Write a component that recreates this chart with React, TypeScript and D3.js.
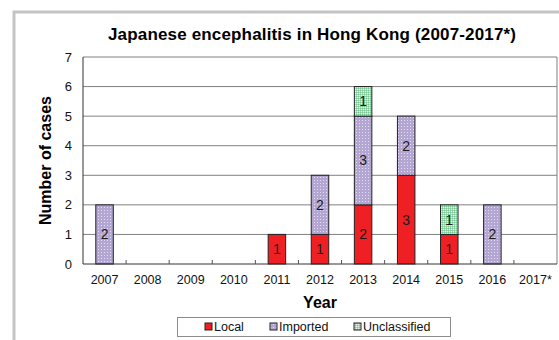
import { useEffect, useRef } from "react";
import * as d3 from "d3";

const years = ["2007", "2008", "2009", "2010", "2011", "2012", "2013", "2014", "2015", "2016", "2017*"];
const localCases = [0, 0, 0, 0, 1, 1, 2, 3, 1, 0, 0];
const importedCases = [2, 0, 0, 0, 0, 2, 3, 2, 0, 2, 0];
const unclassifiedCases = [0, 0, 0, 0, 0, 0, 1, 0, 1, 0, 0];
const yTicks = [0, 1, 2, 3, 4, 5, 6, 7];
const seriesNames = ["Local", "Imported", "Unclassified"];

const FONT = "'Liberation Sans', Arial, sans-serif";

export default function App() {
  const svgRef = useRef<SVGSVGElement>(null);

  useEffect(() => {
    if (!svgRef.current) return;
    const W = 559, H = 340;
    const margin = { top: 57, right: 2, bottom: 76, left: 83 };
    const width = W - margin.left - margin.right;
    const height = H - margin.top - margin.bottom;

    const root = d3.select(svgRef.current);
    root.selectAll("*").remove();
    root.attr("width", W).attr("height", H);

    // patterns for the fills
    const defs = root.append("defs");
    defs.append("pattern").attr("id", "imp").attr("patternUnits", "userSpaceOnUse")
      .attr("width", 3).attr("height", 3)
      .call(p => {
        p.append("rect").attr("width", 3).attr("height", 3).attr("fill", "#b3a6d3");
        p.append("rect").attr("width", 1).attr("height", 1).attr("fill", "#e4ddf0");
      });
    defs.append("pattern").attr("id", "unc").attr("patternUnits", "userSpaceOnUse")
      .attr("width", 2).attr("height", 2)
      .call(p => {
        p.append("rect").attr("width", 2).attr("height", 2).attr("fill", "#a6dcb4");
        p.append("rect").attr("width", 1).attr("height", 1).attr("fill", "#e6f6ea");
        p.append("rect").attr("x", 1).attr("y", 1).attr("width", 1).attr("height", 1).attr("fill", "#7cc795");
      });

    const fills: Record<string, string> = {
      Local: "#ee2024",
      Imported: "url(#imp)",
      Unclassified: "url(#unc)",
    };

    // outer frame
    root.append("rect").attr("x", 14).attr("y", 12).attr("width", W + 20).attr("height", H + 20)
      .attr("fill", "#fff").attr("stroke", "#c4c4c4").attr("stroke-width", 3);

    root.append("text")
      .attr("x", 312).attr("y", 40)
      .attr("text-anchor", "middle")
      .attr("font-family", FONT).attr("font-weight", "bold").attr("font-size", 17)
      .attr("textLength", 408).attr("lengthAdjust", "spacing")
      .text("Japanese encephalitis in Hong Kong (2007-2017*)");

    const g = root.append("g").attr("transform", `translate(${margin.left},${margin.top})`);

    const x = d3.scaleBand().domain(years).range([0, width]).paddingInner(0).paddingOuter(0);
    const y = d3.scaleLinear().domain([0, 7]).range([height, 0]);
    const barW = 17.5;

    // gridlines
    g.selectAll(".grid").data(yTicks.slice(1)).enter().append("line")
      .attr("x1", 0).attr("x2", width)
      .attr("y1", d => y(d)).attr("y2", d => y(d))
      .attr("stroke", "#808080").attr("stroke-width", 1);
    // right border
    g.append("line").attr("x1", width).attr("x2", width).attr("y1", 0).attr("y2", height)
      .attr("stroke", "#808080");

    // y tick labels
    g.selectAll(".yl").data(yTicks).enter().append("text")
      .attr("x", -11).attr("y", d => y(d)).attr("dy", "0.35em")
      .attr("text-anchor", "end")
      .attr("font-family", FONT).attr("font-size", 13).attr("fill", "#111")
      .text(d => d);

    // stacked bars
    const rows = years.map((yr, i) => ({ year: yr, Local: localCases[i], Imported: importedCases[i], Unclassified: unclassifiedCases[i] }));
    const stack = d3.stack<any>().keys(seriesNames)(rows);
    stack.forEach(s => {
      const key = s.key;
      s.forEach((d: any) => {
        const v = d[1] - d[0];
        if (!v) return;
        const bx = (x(d.data.year) || 0) + x.bandwidth() / 2 - barW / 2;
        g.append("rect")
          .attr("x", bx).attr("y", y(d[1]))
          .attr("width", barW).attr("height", y(d[0]) - y(d[1]))
          .attr("fill", fills[key]).attr("stroke", "#222").attr("stroke-width", 1);
        g.append("text")
          .attr("x", bx + barW / 2).attr("y", (y(d[0]) + y(d[1])) / 2).attr("dy", "0.35em")
          .attr("text-anchor", "middle")
          .attr("font-family", FONT).attr("font-size", 14).attr("fill", "#1a1a1a")
          .text(v);
      });
    });

    // axes lines
    g.append("line").attr("x1", 0).attr("x2", width).attr("y1", height).attr("y2", height)
      .attr("stroke", "#333");
    g.append("line").attr("x1", 0).attr("x2", 0).attr("y1", 0).attr("y2", height)
      .attr("stroke", "#333");
    // category ticks
    g.selectAll(".xt").data(years.slice(1)).enter().append("line")
      .attr("x1", d => x(d) || 0).attr("x2", d => x(d) || 0)
      .attr("y1", height - 4).attr("y2", height)
      .attr("stroke", "#555");

    g.selectAll(".xl").data(years).enter().append("text")
      .attr("x", d => (x(d) || 0) + x.bandwidth() / 2).attr("y", height + 20)
      .attr("text-anchor", "middle")
      .attr("font-family", FONT).attr("font-size", 12.5).attr("fill", "#111")
      .text(d => d);

    g.append("text").attr("x", width / 2).attr("y", height + 44)
      .attr("text-anchor", "middle")
      .attr("font-family", FONT).attr("font-weight", "bold").attr("font-size", 16)
      .text("Year");

    root.append("text")
      .attr("transform", `translate(51,${margin.top + height / 2}) rotate(-90)`)
      .attr("text-anchor", "middle")
      .attr("font-family", FONT).attr("font-weight", "bold").attr("font-size", 16)
      .text("Number of cases");

    // legend
    const lg = root.append("g");
    lg.append("rect").attr("x", 177.5).attr("y", 317.5).attr("width", 273).attr("height", 19)
      .attr("fill", "#fff").attr("stroke", "#8c8c8c");
    const legX = [205, 270, 354];
    seriesNames.forEach((n, i) => {
      lg.append("rect").attr("x", legX[i]).attr("y", 323).attr("width", 7).attr("height", 7)
        .attr("fill", fills[n]).attr("stroke", "#222").attr("stroke-width", 1);
      lg.append("text").attr("x", legX[i] + 9).attr("y", 331)
        .attr("font-family", FONT).attr("font-size", 12.5).attr("fill", "#111")
        .text(n);
    });
  }, []);

  return (
    <svg ref={svgRef} style={{ position: "fixed", left: 0, top: 0, background: "#fff" }} />
  );
}
